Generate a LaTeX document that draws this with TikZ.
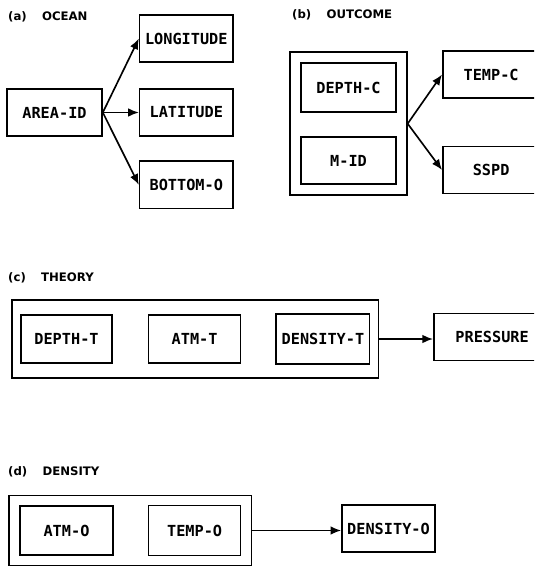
\documentclass[tikz,border=0pt]{standalone}
\usepackage{fontspec}
\setmonofont{DejaVu Sans Mono}
\setsansfont{DejaVu Sans}
\usepackage{tikz}
\usetikzlibrary{arrows.meta, positioning, fit}

\begin{document}
\begin{tikzpicture}[
  x=0.03cm, y=-0.03cm,
  node distance=1.05cm,
  box/.style={draw, line width=1.4pt, minimum width=2.8cm, minimum height=1.42cm, inner sep=2pt, font=\ttfamily\bfseries\fontsize{13}{15}\selectfont},
  group/.style={draw, line width=1.4pt, inner sep=0.3cm},
  title/.style={anchor=west, inner sep=0pt, font=\sffamily\bfseries\fontsize{10}{12}\selectfont},
  arr/.style={-{Latex[length=3.2mm, width=2.6mm]}, line width=1.4pt}
]
\useasboundingbox (0,0) rectangle (534,567);
\clip (0,0) rectangle (534,567);

% (a) ocean
\node[title] (ta) at (8,17) {(a)\hspace{1.3em}OCEAN};
\node[box, minimum width=2.85cm] (area) at (54.5,112.5) {AREA-ID};
\node[box, right=1.08cm of area] (lat) {LATITUDE};
\node[box, above=0.75cm of lat] (lon) {LONGITUDE};
\node[box, below=0.7cm of lat] (bot) {BOTTOM-O};

\draw[arr] (area.east) -- (lon.west);
\draw[arr] (area.east) -- (lat.west);
\draw[arr] (area.east) -- (bot.west);

% (b) outcome
\node[title] (tb) at (292,15) {(b)\hspace{1.3em}OUTCOME};
\node[box, minimum width=2.85cm, minimum height=1.47cm] (depthc) at (348.5,87.5) {DEPTH-C};
\node[box, minimum width=2.85cm, below=0.7cm of depthc] (mid) {M-ID};
\node[group, fit=(depthc)(mid)] (outb) {};
\node[box, anchor=west, minimum width=2.9cm] (tempc) at (442,74.5) {TEMP-C};
\node[box, anchor=west, minimum width=2.9cm] (sspd) at (442,170) {SSPD};

\draw[arr] (outb.east) -- (tempc.west);
\draw[arr] (outb.east) -- (sspd.west);

% (c) theory
\node[title] (tc) at (8,278) {(c)\hspace{1.3em}THEORY};
\node[box, minimum width=2.73cm, minimum height=1.45cm] (deptht) at (66.5,339) {DEPTH-T};
\node[box, minimum width=2.76cm, minimum height=1.45cm, right=1.05cm of deptht] (atmt) {ATM-T};
\node[box, minimum height=1.5cm, right=1.02cm of atmt] (denst) {DENSITY-T};
\node[group, fit=(deptht)(atmt)(denst), inner xsep=0.24cm, inner ysep=0.4cm] (outc) {};
\node[box, anchor=west, minimum width=3.5cm] (press) at (433,337) {PRESSURE};

\draw[arr] (outc.east) -- (outc.east -| press.west);

% (d) density
\node[title] (td) at (8,472) {(d)\hspace{1.3em}DENSITY};
\node[box, minimum width=2.79cm, minimum height=1.47cm] (atmo) at (66.5,530.5) {ATM-O};
\node[box, minimum width=2.76cm, minimum height=1.5cm, right=1.02cm of atmo] (tempo) {TEMP-O};
\node[box, minimum width=2.79cm] (denso) at (388.5,528.5) {DENSITY-O};
\node[group, fit=(atmo)(tempo), inner ysep=0.28cm] (outd) {};

\draw[arr] (outd.east) -- (outd.east -| denso.west);
\end{tikzpicture}
\end{document}
